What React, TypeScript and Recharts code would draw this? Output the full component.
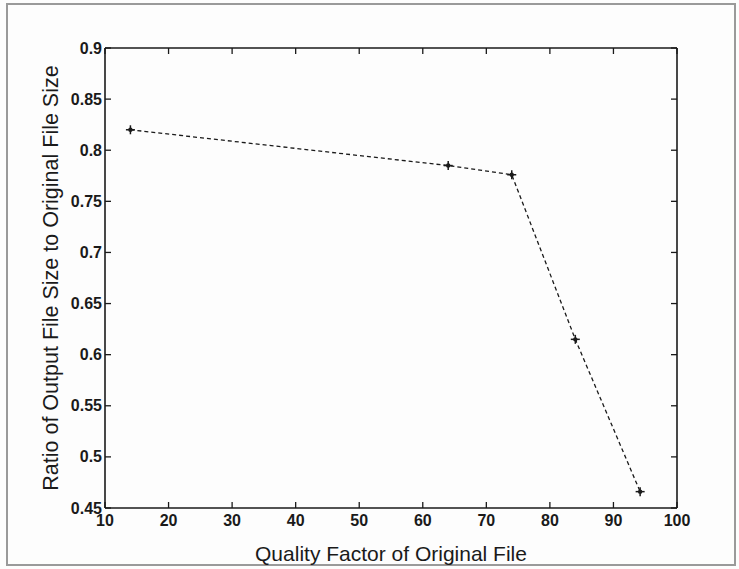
import React from 'react';
import { LineChart, Line, XAxis, YAxis } from 'recharts';

const qualityFactors = [14, 64, 74, 84, 94.2];
const sizeRatios = [0.82, 0.785, 0.776, 0.615, 0.466];
const xTicks = [10, 20, 30, 40, 50, 60, 70, 80, 90, 100];
const yTicks = [0.45, 0.5, 0.55, 0.6, 0.65, 0.7, 0.75, 0.8, 0.85, 0.9];
const xTitle = 'Quality Factor of Original File';
const yTitle = 'Ratio of Output File Size to Original File Size';

const data = qualityFactors.map((q, i) => ({ q, r: sizeRatios[i] }));

const FONT = "'Liberation Sans', Arial, Helvetica, sans-serif";
const INK = '#1a1a1a';
const fmt = (v: number) => String(Number(v.toFixed(2)));

const BottomTick = (p: any) => (
  <g>
    <line x1={p.x} y1={p.y} x2={p.x} y2={p.y - 6} stroke={INK} strokeWidth={1.3} />
    <text x={p.x} y={p.y + 18} textAnchor="middle" fontSize={16} fontWeight="bold" fontFamily={FONT} fill={INK}>
      {p.payload.value}
    </text>
  </g>
);
const TopTick = (p: any) => (
  <line x1={p.x} y1={p.y} x2={p.x} y2={p.y + 6} stroke={INK} strokeWidth={1.3} />
);
const LeftTick = (p: any) => (
  <g>
    <line x1={p.x} y1={p.y} x2={p.x + 6} y2={p.y} stroke={INK} strokeWidth={1.3} />
    <text x={p.x - 3} y={p.y + 5.5} textAnchor="end" fontSize={16} fontWeight="bold" fontFamily={FONT} fill={INK}>
      {fmt(p.payload.value)}
    </text>
  </g>
);
const RightTick = (p: any) => (
  <line x1={p.x} y1={p.y} x2={p.x - 6} y2={p.y} stroke={INK} strokeWidth={1.3} />
);

const PlusDot = (p: any) => {
  const { cx, cy } = p;
  if (cx == null || cy == null) return null;
  return (
    <g>
      <line x1={cx - 4.5} y1={cy} x2={cx + 4.5} y2={cy} stroke={INK} strokeWidth={1.5} />
      <line x1={cx} y1={cy - 4.5} x2={cx} y2={cy + 4.5} stroke={INK} strokeWidth={1.5} />
      <circle cx={cx} cy={cy} r={2.2} fill={INK} />
    </g>
  );
};

const XTitle = (p: any) => {
  const vb = p.viewBox || {};
  return (
    <text x={vb.x + vb.width / 2} y={vb.y + 53} textAnchor="middle" fontSize={21} fontFamily={FONT} fill={INK}>
      {xTitle}
    </text>
  );
};
const YTitle = (p: any) => {
  const vb = p.viewBox || {};
  const cx = 51;
  const cy = vb.y + vb.height / 2;
  return (
    <text x={cx} y={cy} transform={`rotate(-90 ${cx} ${cy})`} textAnchor="middle" dominantBaseline="central" fontSize={21.5} fontFamily={FONT} fill={INK}>
      {yTitle}
    </text>
  );
};

export default function App() {
  return (
    <div style={{ position: 'absolute', left: 0, top: 0, width: 739, height: 569, background: '#fdfdfd' }}>
      <div style={{ position: 'absolute', left: 6, top: 3, width: 730, height: 563, border: '2px solid #9a9a9a', boxSizing: 'border-box' }} />
      <div style={{ position: 'absolute', left: 0, top: 0 }}>
        <LineChart width={739} height={569} data={data} margin={{ top: 0, right: 0, bottom: 0, left: 0 }}>
          <XAxis
            xAxisId="b"
            dataKey="q"
            type="number"
            domain={[10, 100]}
            ticks={xTicks}
            orientation="bottom"
            height={61}
            tickSize={0}
            tickMargin={0}
            tickLine={false}
            axisLine={{ stroke: INK, strokeWidth: 1.6 }}
            tick={<BottomTick />}
            interval={0}
            allowDataOverflow
            label={<XTitle />}
          />
          <XAxis
            xAxisId="t"
            dataKey="q"
            type="number"
            domain={[10, 100]}
            ticks={xTicks}
            orientation="top"
            height={48}
            tickSize={0}
            tickMargin={0}
            tickLine={false}
            axisLine={{ stroke: INK, strokeWidth: 1.6 }}
            tick={<TopTick />}
            interval={0}
            allowDataOverflow
          />
          <YAxis
            yAxisId="l"
            type="number"
            domain={[0.45, 0.9]}
            ticks={yTicks}
            orientation="left"
            width={105}
            tickSize={0}
            tickMargin={0}
            tickLine={false}
            axisLine={{ stroke: INK, strokeWidth: 1.6 }}
            tick={<LeftTick />}
            interval={0}
            allowDataOverflow
            label={<YTitle />}
          />
          <YAxis
            yAxisId="r"
            type="number"
            domain={[0.45, 0.9]}
            ticks={yTicks}
            orientation="right"
            width={62}
            tickSize={0}
            tickMargin={0}
            tickLine={false}
            axisLine={{ stroke: INK, strokeWidth: 1.6 }}
            tick={<RightTick />}
            interval={0}
            allowDataOverflow
          />
          <Line
            xAxisId="b"
            yAxisId="l"
            dataKey="r"
            stroke={INK}
            strokeWidth={1.3}
            strokeDasharray="4 3"
            dot={<PlusDot />}
            activeDot={false}
            isAnimationActive={false}
          />
          <Line
            xAxisId="t"
            yAxisId="r"
            dataKey="r"
            stroke="none"
            dot={false}
            activeDot={false}
            legendType="none"
            isAnimationActive={false}
          />
        </LineChart>
      </div>
    </div>
  );
}
